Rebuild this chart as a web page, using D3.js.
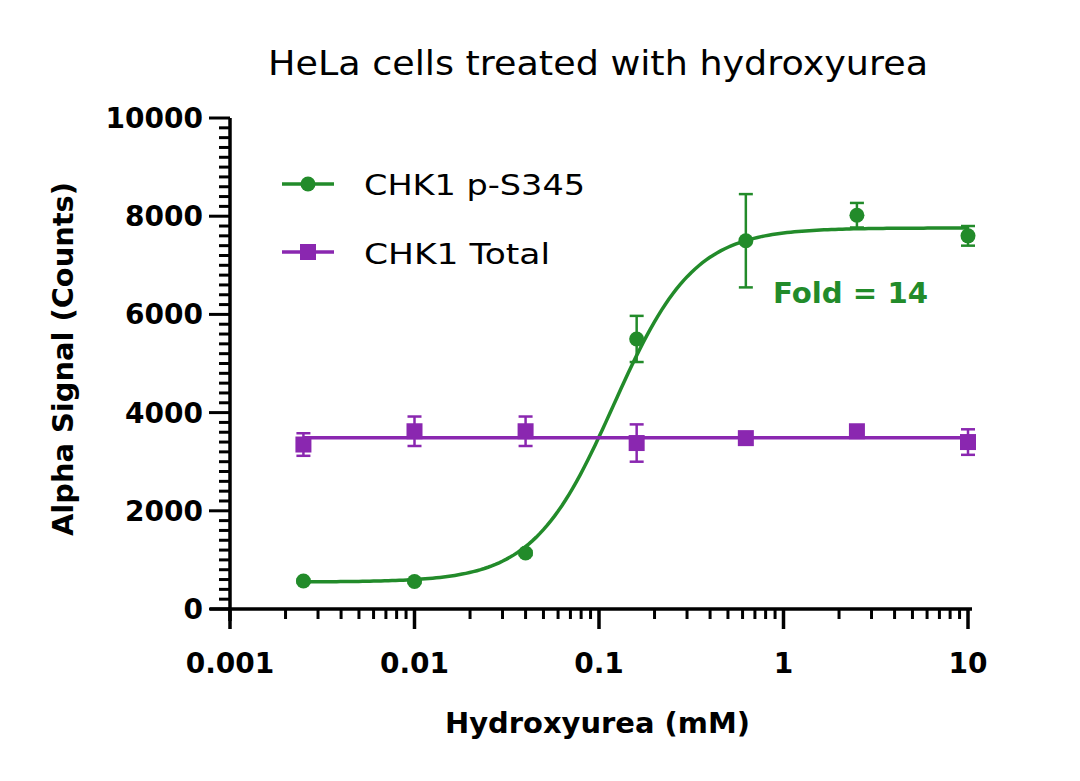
<!DOCTYPE html>
<html><head><meta charset="utf-8">
<script src="https://cdn.jsdelivr.net/npm/d3@7"></script>
<style>body{margin:0;background:#fff}text{font-family:"DejaVu Sans",sans-serif}</style>
</head><body><svg id="c" width="1080" height="781"></svg>
<script>
const doses=[0.0025,0.01,0.04,0.16,0.625,2.5,10];
const pS345=[570,560,1140,5500,7500,8020,7600];
const pS345Err=[30,30,40,470,950,250,200];
const total=[3350,3620,3620,3380,3480,3620,3400];
const totalErr=[230,300,300,380,60,50,260];
const fitBottom=550, fitTop=7760, fitEC50=0.12, fitHill=2.0;
const totalMean=3490;
const xTicks=[0.001,0.01,0.1,1,10];
const yTicks=[0,2000,4000,6000,8000,10000];
const green="#228B2A", purple="#8A27B0";

const svg=d3.select("#c");
const x=d3.scaleLog().domain([0.001,10]).range([230,968]);
const y=d3.scaleLinear().domain([0,10000]).range([609,118]);
function fit(t,w){t.attr("textLength",w).attr("lengthAdjust","spacingAndGlyphs");return t;}
const ax=svg.append("g").attr("stroke","#000");
ax.append("line").attr("x1",230).attr("x2",230).attr("y1",118).attr("y2",621).attr("stroke-width",3.5);
ax.append("line").attr("x1",210).attr("x2",972).attr("y1",609).attr("y2",609).attr("stroke-width",3.5);
d3.range(0,10001,200).forEach(v=>{const maj=v%2000===0;
 ax.append("line").attr("x1",maj?209:219).attr("x2",230).attr("y1",y(v)).attr("y2",y(v)).attr("stroke-width",3);});
for(let d=0.001;d<10;d*=10){for(let k=2;k<=9;k++){ax.append("line").attr("x1",x(d*k)).attr("x2",x(d*k)).attr("y1",609).attr("y2",619).attr("stroke-width",3);}}
xTicks.forEach(v=>ax.append("line").attr("x1",x(v)).attr("x2",x(v)).attr("y1",609).attr("y2",629).attr("stroke-width",3.5));
yTicks.forEach(v=>svg.append("text").attr("x",203).attr("y",y(v)+10).attr("text-anchor","end").attr("font-size",28).attr("font-weight",700).text(v));
xTicks.forEach(v=>svg.append("text").attr("x",x(v)).attr("y",673).attr("text-anchor","middle").attr("font-size",28).attr("font-weight",700).text(v));
fit(svg.append("text").attr("x",445).attr("y",733).attr("font-size",28).attr("font-weight",700).text("Hydroxyurea (mM)"),305);
fit(svg.append("text").attr("transform","translate(73,536) rotate(-90)").attr("font-size",28).attr("font-weight",700).text("Alpha Signal (Counts)"),354);
fit(svg.append("text").attr("x",268).attr("y",75).attr("font-size",33).text("HeLa cells treated with hydroxyurea"),660);
const fx=d3.range(0,181).map(i=>0.0025*Math.pow(4000,i/180));
svg.append("path").attr("d",d3.line().x(d=>x(d)).y(d=>y(fitBottom+(fitTop-fitBottom)/(1+Math.pow(fitEC50/d,fitHill))))(fx)).attr("fill","none").attr("stroke",green).attr("stroke-width",3.5);
svg.append("line").attr("x1",x(doses[0])).attr("x2",x(10)).attr("y1",y(totalMean)).attr("y2",y(totalMean)).attr("stroke",purple).attr("stroke-width",3.5);
function errs(vals,e,col){vals.forEach((v,i)=>{const cx=x(doses[i]);
 const g=svg.append("g").attr("stroke",col).attr("stroke-width",2.5);
 g.append("line").attr("x1",cx).attr("x2",cx).attr("y1",y(v-e[i])).attr("y2",y(v+e[i]));
 [v-e[i],v+e[i]].forEach(t=>g.append("line").attr("x1",cx-7).attr("x2",cx+7).attr("y1",y(t)).attr("y2",y(t)));});}
errs(pS345,pS345Err,green);errs(total,totalErr,purple);
pS345.forEach((v,i)=>svg.append("circle").attr("cx",x(doses[i])).attr("cy",y(v)).attr("r",7.5).attr("fill",green));
total.forEach((v,i)=>svg.append("rect").attr("x",x(doses[i])-8).attr("y",y(v)-8).attr("width",16).attr("height",16).attr("fill",purple));
svg.append("line").attr("x1",282).attr("x2",334).attr("y1",184).attr("y2",184).attr("stroke",green).attr("stroke-width",3.5);
svg.append("circle").attr("cx",308).attr("cy",184).attr("r",7.5).attr("fill",green);
svg.append("line").attr("x1",282).attr("x2",334).attr("y1",252).attr("y2",252).attr("stroke",purple).attr("stroke-width",3.5);
svg.append("rect").attr("x",300).attr("y",244).attr("width",16).attr("height",16).attr("fill",purple);
fit(svg.append("text").attr("x",364).attr("y",195).attr("font-size",29).text("CHK1 p-S345"),221);
fit(svg.append("text").attr("x",364).attr("y",264).attr("font-size",29).text("CHK1 Total"),186);
fit(svg.append("text").attr("x",773).attr("y",303).attr("font-size",28).attr("font-weight",700).attr("fill",green).text("Fold = 14"),155);
</script></body></html>
